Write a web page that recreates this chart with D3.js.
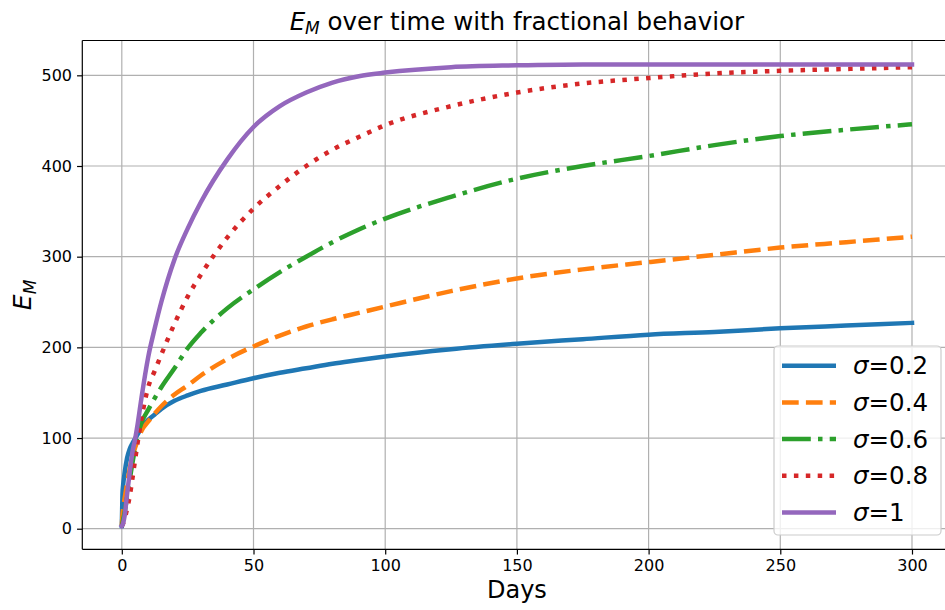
<!DOCTYPE html>
<html><head><meta charset="utf-8">
<script src="https://cdn.jsdelivr.net/npm/d3@7"></script>
<style>body{margin:0;background:#fff;} text{font-family:"DejaVu Sans",sans-serif;}</style>
</head><body><svg id="c" width="945" height="610"></svg>
<script>
const days = [0,0.25,0.5,1,2,3,4,5,6,7.5,10,12.5,15,20,25,30,40,50,60,70,80,90,100,125,150,175,200,225,250,275,300];
const sigma02 = [3,38,48,60,78,88,94,99,104,111,120,126,132,141,147,152,159,166,172,177,182,186,190,198,204,209,214,217,221,224,227];
const sigma04 = [3,15,22,32,50,66,79,89,97,108,118,127,135,148,158,169,187,201,213,223,231,238,245,262,276,286,294,302,310,316,322];
const sigma06 = [3,6,10,17,35,54,72,88,102,117,131,144,156,177,199,216,243,264,283,300,316,330,342,366,386,400,411,423,433,440,446];
const sigma08 = [3,4,6,10,22,36,55,75,95,122,156,174,192,226,256,280,321,353,378,400,418,432,445,466,481,491,497,502,505,507,509];
const sigma10 = [3,4,6,13,38,62,84,98,115,145,189,221,250,297,331,360,407,443,466,481,492,499,503,509,511,512,512,512,512,512,512];
const seriesLabels = ["0.2","0.4","0.6","0.8","1"];
const xTicks = [0,50,100,150,200,250,300];
const yTicks = [0,100,200,300,400,500];

const colors = ["#1f77b4","#ff7f0e","#2ca02c","#d62728","#9467bd"];
const dashes = [null,"16.7,7.2","28.8,7.2,4.5,7.2","4.5,7.4",null];
const allSeries = [sigma02,sigma04,sigma06,sigma08,sigma10];

const svg = d3.select("#c");
const L=82.3, R=951.5, T=40.5, B=549.3;
const x = d3.scaleLinear().domain([-15,315]).range([L,R]);
const y = d3.scaleLinear().domain([-22.7,538.4]).range([B,T]);

svg.append("defs").append("clipPath").attr("id","clip").append("rect")
  .attr("x",L).attr("y",T).attr("width",R-L).attr("height",B-T);

// grid
const g = svg.append("g");
g.selectAll(".gx").data(xTicks).enter().append("line")
  .attr("x1",d=>x(d)).attr("x2",d=>x(d)).attr("y1",T).attr("y2",B)
  .attr("stroke","#b0b0b0").attr("stroke-width",1.2);
g.selectAll(".gy").data(yTicks).enter().append("line")
  .attr("y1",d=>y(d)).attr("y2",d=>y(d)).attr("x1",L).attr("x2",R)
  .attr("stroke","#b0b0b0").attr("stroke-width",1.2);

// lines
const line = d3.line().x((d,i)=>x(days[i])).y(d=>y(d)).curve(d3.curveMonotoneX);
const lg = svg.append("g").attr("clip-path","url(#clip)");
allSeries.forEach((s,i)=>{
  lg.append("path").datum(s).attr("d",line).attr("fill","none")
    .attr("stroke",colors[i]).attr("stroke-width",4.5)
    .attr("stroke-dasharray",dashes[i]).attr("stroke-linecap", dashes[i]?"butt":"square")
    .attr("stroke-linejoin","round");
});

// axes
const xAxis = d3.axisBottom(x).tickValues(xTicks).tickSize(5.25).tickPadding(5);
const yAxis = d3.axisLeft(y).tickValues(yTicks).tickSize(5.25).tickPadding(5);
const ax = svg.append("g").attr("transform",`translate(0,${B})`).call(xAxis);
const ay = svg.append("g").attr("transform",`translate(${L},0)`).call(yAxis);
[ax,ay].forEach(a=>{
  a.select(".domain").remove();
  a.selectAll(".tick line").attr("stroke","#000").attr("stroke-width",1.2);
  a.selectAll(".tick text").attr("font-family","DejaVu Sans").attr("font-size",16).attr("fill","#000");
});
// spines
svg.append("line").attr("x1",L).attr("x2",L).attr("y1",T).attr("y2",B).attr("stroke","#000").attr("stroke-width",1.2);
svg.append("line").attr("x1",L).attr("x2",R).attr("y1",B).attr("y2",B).attr("stroke","#000").attr("stroke-width",1.2);
svg.append("line").attr("x1",L).attr("x2",R).attr("y1",T).attr("y2",T).attr("stroke","#000").attr("stroke-width",1.2);

// title
const cx = (L+R)/2;
const title = svg.append("text").attr("x",cx).attr("y",30).attr("text-anchor","middle").attr("font-size",24.5);
title.append("tspan").attr("font-style","italic").text("E");
title.append("tspan").attr("font-style","italic").attr("font-size",17).attr("dy",4).text("M");
title.append("tspan").attr("dy",-4).text(" over time with fractional behavior");

// x label
svg.append("text").attr("x",cx).attr("y",598).attr("text-anchor","middle").attr("font-size",24).text("Days");
// y label
const yl = svg.append("text").attr("transform",`translate(31,${(T+B)/2}) rotate(-90)`).attr("text-anchor","middle").attr("font-size",25);
yl.append("tspan").attr("font-style","italic").text("E");
yl.append("tspan").attr("font-style","italic").attr("font-size",17).attr("dy",5).text("M");

// legend
const leg = svg.append("g");
leg.append("rect").attr("x",774).attr("y",346).attr("width",167).attr("height",189).attr("rx",4)
  .attr("fill","#fff").attr("fill-opacity",0.8).attr("stroke","#cccccc").attr("stroke-width",1.2);
seriesLabels.forEach((lab,i)=>{
  const yy = 365.7 + i*36.7;
  leg.append("line").attr("x1",782).attr("x2",836).attr("y1",yy).attr("y2",yy)
    .attr("stroke",colors[i]).attr("stroke-width",4.5).attr("stroke-dasharray",dashes[i]);
  const t = leg.append("text").attr("x",853).attr("y",yy+8.5).attr("font-size",24.5);
  t.append("tspan").attr("font-style","italic").text("σ");
  t.append("tspan").text("=" + lab);
});
</script></body></html>
